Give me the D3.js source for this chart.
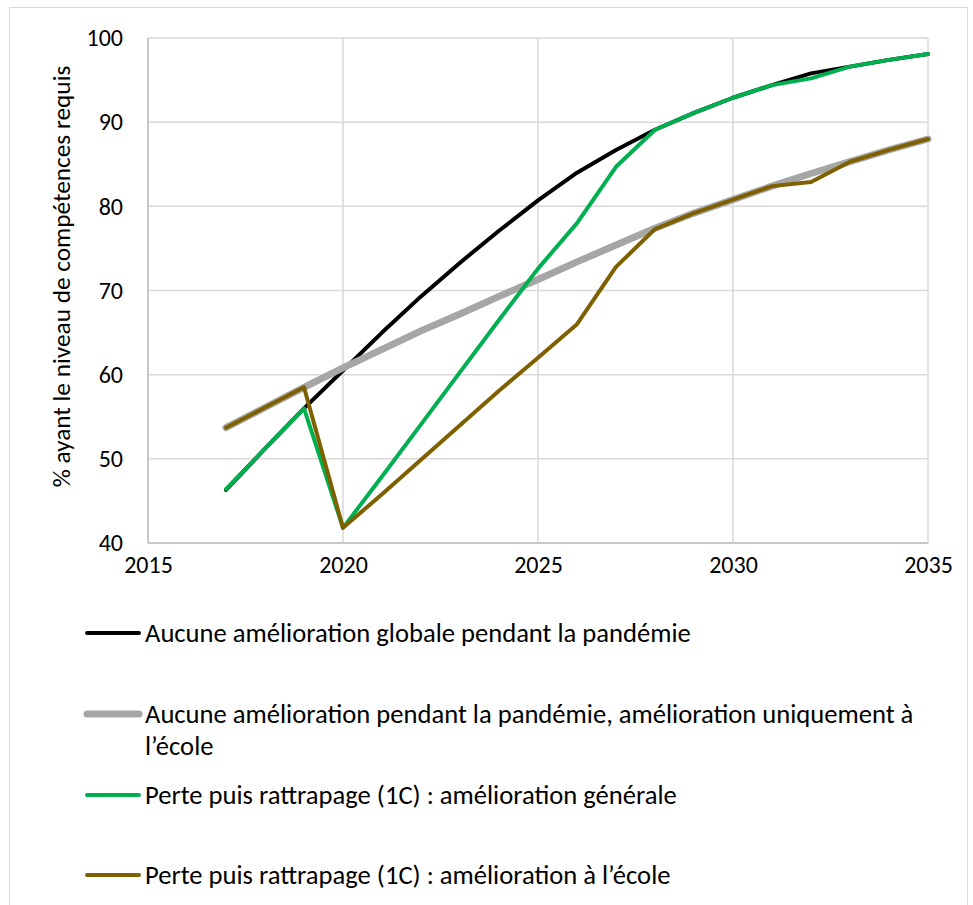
<!DOCTYPE html>
<html><head><meta charset="utf-8">
<script src="https://cdn.jsdelivr.net/npm/d3@7"></script>
<style>body{margin:0;background:#fff}svg{display:block}</style>
</head><body>
<svg id="c" width="973" height="905"></svg>
<script>
const years = d3.range(2017, 2036);
const noImprovementGlobal = [46.3,51.2,56.0,60.5,65.0,69.3,73.3,77.1,80.7,84.0,86.7,89.1,91.1,92.9,94.4,95.8,96.6,97.4,98.1];
const noImprovementSchool = [53.7,56.1,58.5,60.8,63.0,65.2,67.2,69.3,71.3,73.4,75.4,77.4,79.2,80.8,82.4,83.9,85.3,86.7,88.0];
const lossGeneral = [46.4,51.2,56.0,41.8,47.9,54.1,60.3,66.5,72.6,78.0,84.7,89.1,91.1,92.9,94.4,95.2,96.6,97.4,98.1];
const lossSchool = [53.7,56.1,58.5,41.8,45.8,49.9,54.0,58.1,62.0,66.0,72.8,77.3,79.2,80.8,82.4,82.9,85.3,86.7,88.0];
const xTicks = [2015,2020,2025,2030,2035];
const yTicks = [40,50,60,70,80,90,100];
const seriesNames = [
  "Aucune amélioration globale pendant la pandémie",
  ["Aucune amélioration pendant la pandémie, amélioration uniquement à","l’école"],
  "Perte puis rattrapage (1C) : amélioration générale",
  "Perte puis rattrapage (1C) : amélioration à l’école"
];
const colors = ["#000000","#a6a6a6","#00b050","#7f6000"];
const widths = [4,7,4,4];
const seriesVals = [noImprovementGlobal, noImprovementSchool, lossGeneral, lossSchool];

const svg = d3.select("#c");
const font = "Calibri, Carlito, 'Open Sans', sans-serif";
svg.append("rect").attr("x",9.5).attr("y",7.5).attr("width",958).attr("height",910)
  .attr("fill","#fff").attr("stroke","#d9d9d9").attr("stroke-width",1);

const x = d3.scaleLinear().domain([2015,2035]).range([148,928]);
const y = d3.scaleLinear().domain([40,100]).range([543,38]);

const g = svg.append("g");
g.selectAll(".vg").data(xTicks).join("line")
  .attr("x1",d=>x(d)).attr("x2",d=>x(d)).attr("y1",y(40)).attr("y2",y(100))
  .attr("stroke","#d9d9d9").attr("stroke-width",1.5);
g.selectAll(".hg").data(yTicks).join("line")
  .attr("x1",x(2015)).attr("x2",x(2035)).attr("y1",d=>y(d)).attr("y2",d=>y(d))
  .attr("stroke","#d9d9d9").attr("stroke-width",1.5);
g.append("line").attr("x1",x(2015)).attr("x2",x(2015)).attr("y1",y(40)).attr("y2",y(100)).attr("stroke","#bfbfbf").attr("stroke-width",1.5);
g.append("line").attr("x1",x(2015)).attr("x2",x(2035)).attr("y1",y(40)).attr("y2",y(40)).attr("stroke","#bfbfbf").attr("stroke-width",1.5);

const yAxis = d3.axisLeft(y).tickValues(yTicks).tickSize(0).tickPadding(25);
const ya = svg.append("g").attr("transform",`translate(${x(2015)},0)`).call(yAxis);
ya.select(".domain").remove();
ya.selectAll("text").attr("font-family",font).attr("font-size",24).attr("fill","#000");
const xAxis = d3.axisBottom(x).tickValues(xTicks).tickFormat(d3.format("d")).tickSize(0).tickPadding(13);
const xa = svg.append("g").attr("transform",`translate(0,${y(40)})`).call(xAxis);
xa.select(".domain").remove();
xa.selectAll("text").attr("font-family",font).attr("font-size",24).attr("fill","#000");

svg.append("text").attr("transform",`translate(70,${(y(40)+y(100))/2 - 14}) rotate(-90)`)
  .attr("text-anchor","middle").attr("font-family",font).attr("font-size",25.3).attr("fill","#000")
  .text("% ayant le niveau de compétences requis");

const line = d3.line().x((d,i)=>x(years[i])).y(d=>y(d));
seriesVals.forEach((vals,k)=>{
  svg.append("path").attr("d",line(vals)).attr("fill","none")
    .attr("stroke",colors[k]).attr("stroke-width",widths[k])
    .attr("stroke-linejoin","round").attr("stroke-linecap","round");
});

const legY = [633,714,795,875];
seriesNames.forEach((name,k)=>{
  svg.append("line").attr("x1",87).attr("x2",139).attr("y1",legY[k]).attr("y2",legY[k])
    .attr("stroke",colors[k]).attr("stroke-width",widths[k]).attr("stroke-linecap","round");
  const lines = Array.isArray(name)?name:[name];
  const t = svg.append("text").attr("font-family",font).attr("font-size",26.6).attr("fill","#000");
  lines.forEach((ln,j)=>{
    t.append("tspan").attr("x",145).attr("y",legY[k]+9+j*32).text(ln);
  });
});
</script>
</body></html>
